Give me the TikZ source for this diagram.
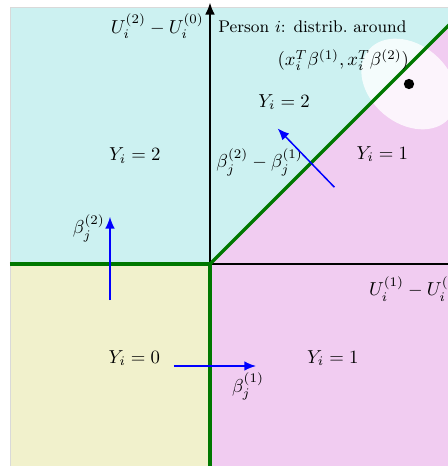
\documentclass[tikz,border=0pt]{standalone}
\usetikzlibrary{arrows.meta}

\definecolor{twocyan}{RGB}{204,241,241}
\definecolor{onepink}{RGB}{241,204,241}
\definecolor{zeroyellow}{RGB}{241,241,204}
\definecolor{cutgreen}{RGB}{0,120,0}

\begin{document}
\begin{tikzpicture}[
    x=0.75cm, y=0.75cm,
    axis/.style={-{Latex[length=2.2mm, width=1.8mm]}, semithick, black},
    cutline/.style={line width=1.8pt, cutgreen},
    betaarrow/.style={-{Latex[length=2.2mm, width=1.8mm]}, thick, blue},
    lbl/.style={inner sep=1pt}
]

\useasboundingbox (-5.25,-5.05) rectangle (5.95,6.6);
\clip (-5.25,-5.05) rectangle (5.95,6.6);

% Regions
\fill[twocyan] (-5,-6) rectangle (7,6.425);
\fill[onepink] (0,-6) -- (0,0) -- (6.425,6.425) -- (7,6.425) -- (7,-6) -- cycle;
\fill[zeroyellow] (-5,-6) rectangle (0,0);
\draw[black!15, line width=0.4pt] (-5,-6) -- (-5,6.425) -- (7,6.425);

% Person i
\coordinate (mean) at (4.975,4.5);
\fill[white, opacity=0.8, rotate around={-40:(mean)}] (mean) ellipse (1.32 and 0.98);
\node[circle, fill=black, inner sep=0pt, minimum size=5.5pt] (meandot) at (mean) {};

% Axes
\coordinate (O) at (0,0);
\coordinate (xleft) at (-5,0);
\coordinate (xright) at (7,0);
\coordinate (ybottom) at (0,-6);
\coordinate (ytop) at (0,6.53);
\draw[semithick] (xleft) -- (xright);
\draw[axis] (ybottom) -- (ytop);

% Boundaries
\coordinate (diagend) at (7,7);
\draw[cutline] (xleft) -- (O) -- (ybottom);
\draw[cutline] (O) -- (diagend);

% Nodes
\node[lbl, anchor=east] (yaxislabel) at (-0.1,5.95) {$U_i^{(2)} - U_i^{(0)}$};
\node[lbl, anchor=west] (xaxislabel) at (3.92,-0.62) {$U_i^{(1)} - U_i^{(0)}$};
\node[lbl, font=\small] (person) at (2.56,5.92) {Person $i$: distrib.\ around};
\node[lbl] (meanlabel) at (3.33,5.1) {$(x_i^T\beta^{(1)}, x_i^T\beta^{(2)})$};
\node[lbl] (twoinner) at (1.85,4.05) {$Y_i = 2$};
\node[lbl] (twoouter) at (-1.88,2.72) {$Y_i = 2$};
\node[lbl] (oneupper) at (4.31,2.75) {$Y_i = 1$};
\node[lbl] (onelower) at (3.07,-2.35) {$Y_i = 1$};
\node[lbl] (zero) at (-1.89,-2.35) {$Y_i = 0$};
\node[lbl] (diffbeta) at (1.24,2.55) {$\beta_j^{(2)} - \beta_j^{(1)}$};
\node[lbl] (betatwo) at (-3.03,0.9) {$\beta_j^{(2)}$};
\node[lbl] (betaone) at (0.95,-3.07) {$\beta_j^{(1)}$};

% Edges
\coordinate (diffstart) at (3.11,1.92);
\coordinate (diffend) at (1.69,3.39);
\coordinate (twostart) at (-2.5,-0.9);
\coordinate (twoend) at (-2.5,1.18);
\coordinate (onestart) at (-0.9,-2.55);
\coordinate (oneend) at (1.15,-2.55);
\draw[betaarrow] (diffstart) -- (diffend);
\draw[betaarrow] (twostart) -- (twoend);
\draw[betaarrow] (onestart) -- (oneend);

\end{tikzpicture}
\end{document}
